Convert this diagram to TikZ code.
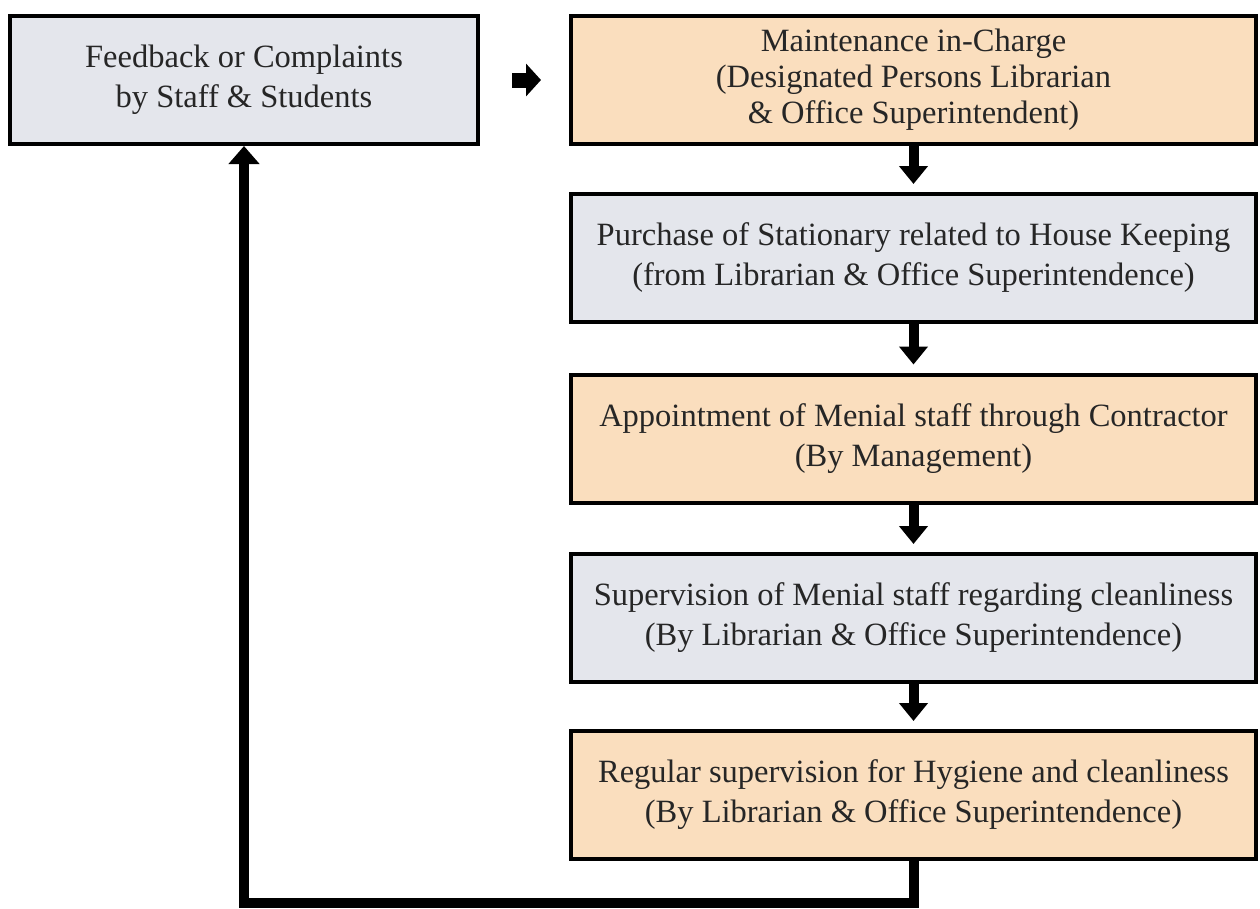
\documentclass[tikz,border=0pt]{standalone}
\usepackage{fontspec}
\setmainfont{Liberation Serif}
\usetikzlibrary{arrows.meta}
\definecolor{boxgray}{RGB}{228,230,236}
\definecolor{boxorange}{RGB}{250,222,190}
\begin{document}
\begin{tikzpicture}[x=1pt,y=-1pt,
  box/.style={draw=black,line width=4pt,minimum height=128pt,inner sep=0pt,align=center,
    text=black!85,font=\fontsize{32.5}{40}\selectfont},
  graybox/.style={box,fill=boxgray},
  orangebox/.style={box,fill=boxorange},
  downarrow/.style={line width=10pt,-{Triangle[width=28pt,length=18pt]},shorten >=8pt},
  looparrow/.style={line width=10pt,-{Triangle[width=30pt,length=18pt]}}]
\useasboundingbox (0,0) rectangle (1260,908);
\node[graybox,minimum width=468pt] (fb) at (244,80) {Feedback or Complaints\\by Staff \& Students};
\node[orangebox,minimum width=685pt,font=\fontsize{32.5}{36}\selectfont] (mic) at (913.5,80) {Maintenance in-Charge\\(Designated Persons Librarian\\\& Office Superintendent)};
\node[graybox,minimum width=685pt] (buy) at (913.5,258) {Purchase of Stationary related to House Keeping\\(from Librarian \& Office Superintendence)};
\node[orangebox,minimum width=685pt] (hire) at (913.5,438.5) {Appointment of Menial staff through Contractor\\(By Management)};
\node[graybox,minimum width=685pt] (watch) at (913.5,618) {Supervision of Menial staff regarding cleanliness\\(By Librarian \& Office Superintendence)};
\node[orangebox,minimum width=685pt] (check) at (913.5,795) {Regular supervision for Hygiene and cleanliness\\(By Librarian \& Office Superintendence)};
\coordinate (turn) at (913.5,903);

\path[draw,line width=15pt,-{Triangle[width=32pt,length=15pt]},shorten <=32pt,shorten >=28pt] (fb) -- (mic);
\path[draw,downarrow] (mic) -- (buy);
\path[draw,downarrow] (buy) -- (hire);
\path[draw,downarrow] (hire) -- (watch);
\path[draw,downarrow] (watch) -- (check);
\path[draw,looparrow] (check.south) -- (turn) -| (fb.south);
\end{tikzpicture}
\end{document}
